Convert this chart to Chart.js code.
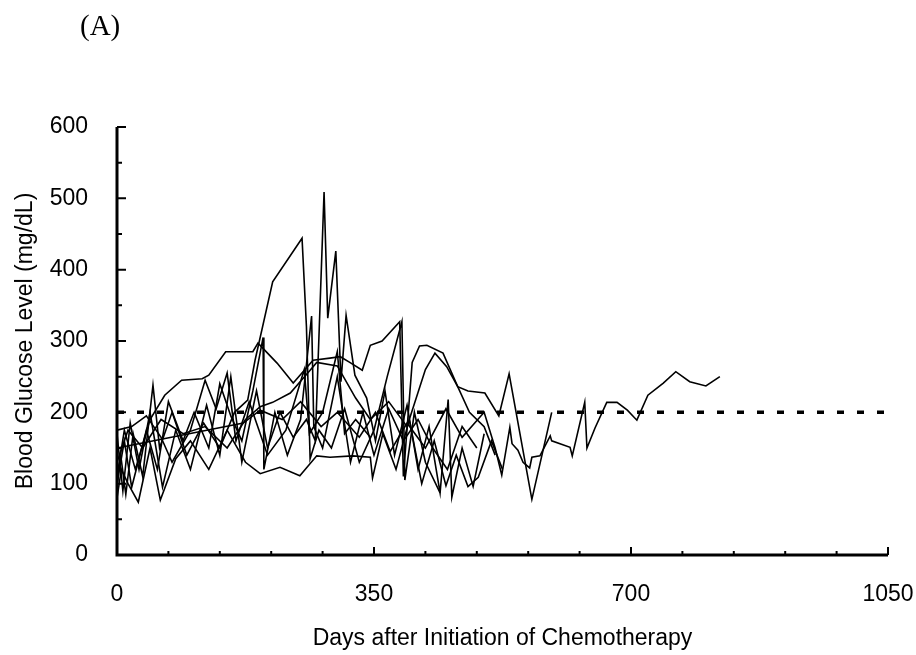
<!DOCTYPE html>
<html>
<head>
<meta charset="utf-8">
<script src="https://cdn.jsdelivr.net/npm/chart.js@4.4.1/dist/chart.umd.min.js"></script>
<style>
  html, body { margin: 0; padding: 0; background: #fff; }
  #wrap { position: relative; width: 916px; height: 655px; }
  #panel { position: absolute; left: 80px; top: 11px; font: 29px/29px "Liberation Serif", "Times New Roman", serif; color: #000; }
  canvas { position: absolute; left: 0; top: 0; }
</style>
</head>
<body>
<div id="wrap">
  <canvas id="chart" width="916" height="655"></canvas>
  <div id="panel">(A)</div>
</div>
<script>
// axis ticks
const xTicks = [0, 350, 700, 1050];
const xMinorTicks = [70, 140, 210, 280, 420, 490, 560, 630, 770, 840, 910, 980];
const yTicks = [0, 100, 200, 300, 400, 500, 600];
const yMinorTicks = [50, 150, 250, 350, 450, 550];
const threshold = 200;

// patients: days after start of chemotherapy / blood glucose (mg/dL)
const p1Days = [0, 172, 195, 225, 250, 278, 300, 330, 352, 372, 395, 420, 448, 470, 500, 515, 524, 535, 538, 546, 553, 562, 565, 576, 590, 592, 617, 620, 637, 640, 651, 667, 681, 695, 708, 723, 744, 761, 780, 802, 821];
const p1Glu  = [150, 185, 203, 190, 215, 180, 200, 165, 200, 145, 185, 150, 205, 165, 200, 150, 112, 179, 156, 147, 130, 122, 137, 139, 167, 160, 151, 139, 214, 150, 178, 214, 214, 203, 189, 224, 241, 257, 243, 237, 250];

const p2Days = [0, 5, 12, 22, 35, 49, 58, 75, 95, 118, 140, 160, 178, 188, 212, 252, 258, 263, 275, 292, 310, 330, 350, 368, 388, 392, 405, 420, 440];
const p2Glu  = [95, 140, 85, 170, 110, 238, 150, 200, 140, 185, 150, 200, 217, 273, 383, 444, 320, 135, 175, 150, 205, 130, 175, 250, 327, 105, 200, 130, 87];

const p3Days = [0, 8, 18, 30, 45, 62, 80, 100, 122, 140, 155, 170, 190, 205, 222, 240, 258, 270, 282, 287, 298, 305, 312, 324, 340, 352, 365, 378, 395, 410, 425, 440, 451, 456, 470, 485, 500];
const p3Glu  = [170, 90, 185, 120, 200, 95, 175, 120, 210, 140, 250, 130, 230, 150, 200, 165, 190, 160, 509, 332, 426, 243, 336, 252, 220, 160, 230, 140, 210, 120, 180, 87, 218, 81, 150, 96, 170];

const p4Days = [0, 10, 25, 45, 65, 88, 116, 125, 148, 185, 192, 218, 240, 267, 290, 304, 317, 334, 345, 361, 385, 390, 402, 412, 422, 444, 464, 478, 501, 520, 534, 565, 592];
const p4Glu  = [110, 175, 120, 190, 224, 245, 247, 252, 285, 285, 297, 269, 241, 273, 276, 278, 270, 259, 294, 300, 327, 110, 270, 293, 294, 283, 236, 230, 227, 195, 254, 78, 200];

const p5Days = [0, 15, 35, 60, 90, 120, 150, 175, 195, 212, 236, 263, 272, 300, 325, 345, 370, 395, 420, 433, 449, 464, 480, 500, 515];
const p5Glu  = [130, 175, 150, 190, 170, 180, 150, 190, 208, 214, 227, 259, 270, 265, 220, 190, 215, 180, 260, 283, 264, 236, 200, 180, 140];

const p6Days = [0, 6, 15, 29, 45, 59, 80, 100, 125, 150, 175, 195, 222, 249, 272, 290, 321, 345, 348, 362, 380, 398, 415, 432, 448, 462, 478, 492, 510, 525];
const p6Glu  = [80, 120, 100, 74, 150, 77, 135, 160, 120, 175, 130, 114, 123, 111, 139, 137, 139, 137, 108, 170, 120, 190, 100, 160, 97, 140, 96, 109, 160, 120];

const p7Days = [0, 10, 20, 40, 55, 70, 90, 105, 125, 140, 155, 170, 185, 199, 200, 215, 232, 250, 265, 268, 280, 300, 318, 335, 350, 370, 390, 410, 430, 450, 470, 490];
const p7Glu  = [100, 160, 95, 175, 120, 215, 160, 200, 150, 240, 195, 160, 230, 305, 120, 200, 140, 190, 335, 180, 150, 250, 130, 200, 140, 205, 160, 190, 150, 120, 180, 150];

const p8Days = [0, 20, 40, 60, 75, 100, 120, 135, 150, 162, 180, 205, 230, 255, 262, 280, 300, 310, 325, 345];
const p8Glu  = [175, 180, 195, 165, 130, 175, 245, 205, 255, 160, 215, 140, 175, 260, 170, 200, 285, 170, 190, 165];

const patients = [
  [p1Days, p1Glu], [p2Days, p2Glu], [p3Days, p3Glu], [p4Days, p4Glu],
  [p5Days, p5Glu], [p6Days, p6Glu], [p7Days, p7Glu], [p8Days, p8Glu],
];

const FONT = '"Liberation Sans", Arial, sans-serif';

const datasets = patients.map(([d, g]) => ({
  data: d.map((x, i) => ({ x, y: g[i] })),
  borderColor: '#000', borderWidth: 1.6, pointRadius: 0, tension: 0, fill: false,
}));
datasets.push({
  data: [{ x: 0, y: threshold }, { x: 1050, y: threshold }],
  borderColor: '#000', borderWidth: 3.5, borderDash: [7, 13], pointRadius: 0, fill: false,
});

// axis lines + inward tick marks
const axesPlugin = {
  id: 'axes',
  afterDatasetsDraw(chart) {
    const { ctx, chartArea: { left, right, top, bottom }, scales: { x, y } } = chart;
    ctx.save();
    ctx.strokeStyle = '#000';
    ctx.lineWidth = 3;
    ctx.beginPath();
    ctx.moveTo(left, top); ctx.lineTo(left, bottom); ctx.lineTo(right, bottom);
    ctx.stroke();
    ctx.lineWidth = 2;
    ctx.beginPath();
    for (const v of yTicks) { const py = y.getPixelForValue(v); ctx.moveTo(left, py); ctx.lineTo(left + 9, py); }
    for (const v of yMinorTicks) { const py = y.getPixelForValue(v); ctx.moveTo(left, py); ctx.lineTo(left + 5, py); }
    for (const v of xTicks) { const px = x.getPixelForValue(v); ctx.moveTo(px, bottom); ctx.lineTo(px, bottom - 8); }
    for (const v of xMinorTicks) { const px = x.getPixelForValue(v); ctx.moveTo(px, bottom); ctx.lineTo(px, bottom - 4); }
    ctx.stroke();
    ctx.restore();
  }
};

new Chart(document.getElementById('chart'), {
  type: 'line',
  data: { datasets },
  options: {
    responsive: false, animation: false,
    layout: { padding: { left: 0, top: 127, right: 28, bottom: 0 } },
    plugins: { legend: { display: false }, tooltip: { enabled: false } },
    scales: {
      x: {
        type: 'linear', min: 0, max: 1050,
        afterBuildTicks: s => { s.ticks = xTicks.map(v => ({ value: v })); },
        afterFit: s => { s.height = 100; s.paddingLeft = 0; s.paddingRight = 0; },
        ticks: { color: '#000', font: { family: FONT, size: 23 }, padding: 26, maxRotation: 0, autoSkip: false,
          callback: v => String(v) },
        grid: { display: false, drawTicks: false }, border: { display: false },
        title: { display: true, text: 'Days after Initiation of Chemotherapy', color: '#000',
          font: { family: FONT, size: 23 }, padding: { top: 0, bottom: 3 } },
      },
      y: {
        min: 0, max: 600,
        afterBuildTicks: s => { s.ticks = yTicks.map(v => ({ value: v })); },
        afterFit: s => { s.width = 117; },
        ticks: { color: '#000', font: { family: FONT, size: 23 }, padding: 29, callback: v => String(v) },
        grid: { display: false, drawTicks: false }, border: { display: false },
        title: { display: true, text: 'Blood Glucose Level (mg/dL)', color: '#000',
          font: { family: FONT, size: 23 }, padding: { top: 12, bottom: 0 } },
      },
    },
  },
  plugins: [axesPlugin],
});
</script>
</body>
</html>
